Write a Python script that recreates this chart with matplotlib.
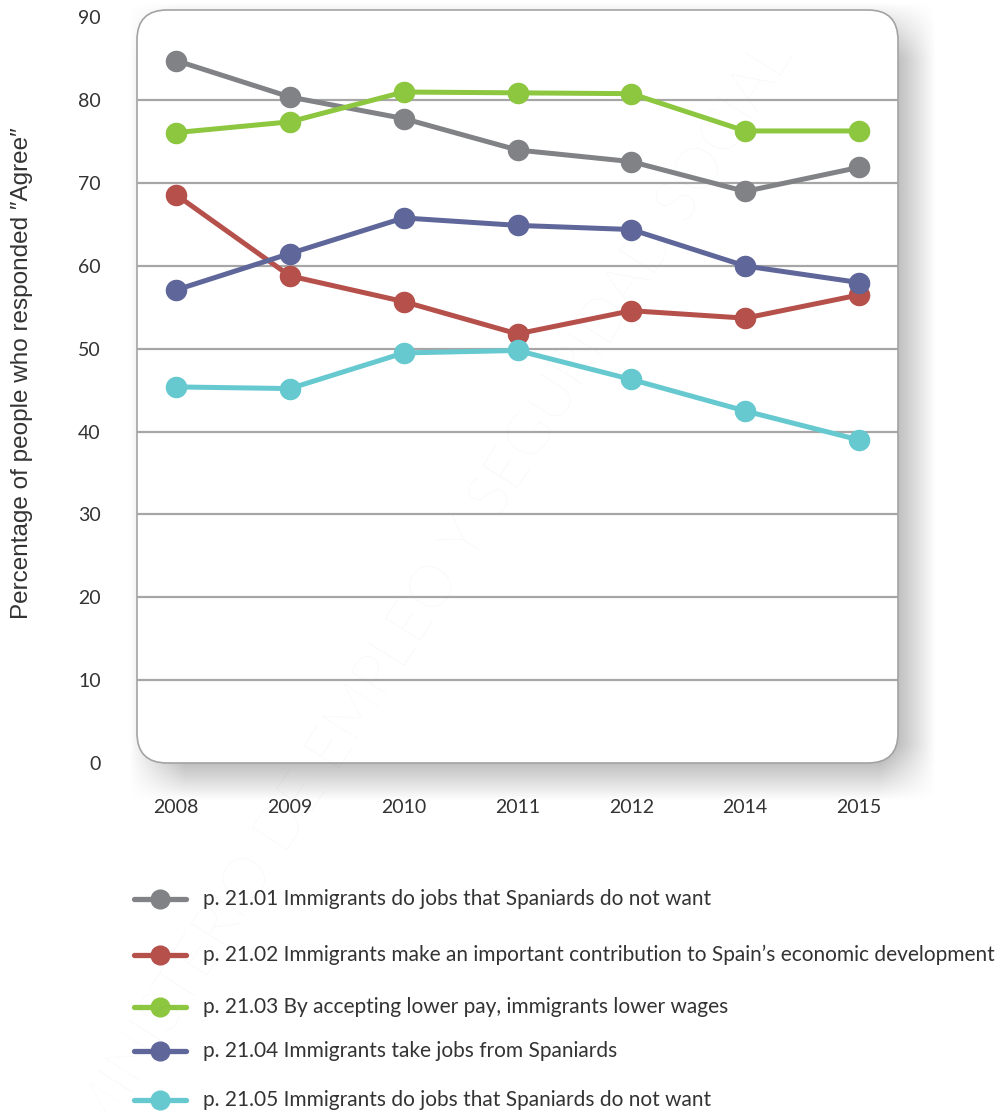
import matplotlib.pyplot as plt
import numpy as np
from matplotlib.patches import FancyBboxPatch

# survey years and share of "Agree" answers (%)
years = ["2008", "2009", "2010", "2011", "2012", "2014", "2015"]
p2101 = [84.8, 80.4, 77.8, 74.0, 72.6, 69.0, 71.9]
p2102 = [68.6, 58.8, 55.7, 51.8, 54.6, 53.7, 56.5]
p2103 = [76.1, 77.4, 81.0, 80.9, 80.8, 76.3, 76.3]
p2104 = [57.1, 61.5, 65.8, 64.9, 64.4, 60.0, 58.0]
p2105 = [45.4, 45.2, 49.5, 49.8, 46.3, 42.5, 39.0]

labels = [
    "p. 21.01 Immigrants do jobs that Spaniards do not want",
    "p. 21.02 Immigrants make an important contribution to Spain\u2019s economic development",
    "p. 21.03 By accepting lower pay, immigrants lower wages",
    "p. 21.04 Immigrants take jobs from Spaniards",
    "p. 21.05 Immigrants do jobs that Spaniards do not want",
]
series = [p2101, p2102, p2103, p2104, p2105]
colors = ["#808285", "#b5504b", "#8dc63f", "#5f6699", "#66c9d0"]

W, H = 998, 1114
fig = plt.figure(figsize=(W / 100, H / 100), dpi=100)

# pixel-space background layer: shadow, rounded box, legend
bg = fig.add_axes([0, 0, 1, 1], zorder=0)
bg.set_xlim(0, W)
bg.set_ylim(H, 0)
bg.axis("off")

bx0, by0, bx1, by1 = 137, 10, 898, 763

# soft drop shadow to the lower right of the box
yy, xx = np.mgrid[0:H, 0:W]
mask = ((xx > bx0 + 20) & (xx < bx1 + 10) & (yy > by0 + 20) & (yy < by1 + 10)).astype(float)
k = 28
for axis in (0, 1):
    c = np.cumsum(np.pad(mask, [(k, k) if a == axis else (0, 0) for a in (0, 1)]), axis=axis)
    if axis == 0:
        mask = (c[2 * k:, :] - c[:-2 * k, :])[:H] / (2 * k)
    else:
        mask = (c[:, 2 * k:] - c[:, :-2 * k])[:, :W] / (2 * k)
shadow = np.zeros((H, W, 4))
shadow[..., :3] = 0.42
shadow[..., 3] = mask * 0.65
bg.imshow(shadow, extent=[0, W, H, 0], aspect="auto", interpolation="bilinear")

box = FancyBboxPatch((bx0, by0), bx1 - bx0, by1 - by0,
                     boxstyle="round,pad=0,rounding_size=30",
                     facecolor="white", edgecolor="#a3a3a3", linewidth=1.2)
bg.add_patch(box)

# faint diagonal watermark
fig.text(0.435, 0.47, "MINISTERIO DE EMPLEO Y SEGURIDAD SOCIAL",
         rotation=57.5, ha="center", va="center", fontsize=43,
         family="Lato", fontweight="light", color="#000000", alpha=0.04,
         zorder=1)

# main plot
ax = fig.add_axes([bx0 / W, 1 - by1 / H, (bx1 - bx0) / W, (by1 - by0) / H], zorder=2)
ax.patch.set_visible(False)
for s in ax.spines.values():
    s.set_visible(False)

x = np.arange(len(years))
ax.set_xlim(-0.343, 6.343)
ax.set_ylim(0, 90.9)
for g in range(10, 90, 10):
    ax.axhline(g, color="#a6a6a6", linewidth=1.6, zorder=1)

for vals, col in zip(series, colors):
    ax.plot(x, vals, color=col, linewidth=3.6, marker="o", markersize=14.5,
            solid_capstyle="round", zorder=3)

ax.set_xticks(x)
ax.set_xticklabels(years)
ax.set_yticks(range(0, 91, 10))
ax.tick_params(length=0, labelsize=14, labelcolor="#333333")
ax.tick_params(axis="x", pad=26)
ax.tick_params(axis="y", pad=26)
for t in ax.get_xticklabels() + ax.get_yticklabels():
    t.set_family("Lato")

fig.text(22 / W, 1 - 373 / H, "Percentage of people who responded \u2033Agree\u2033",
         rotation=90, ha="center", va="center", fontsize=17.5,
         family="Liberation Sans", color="#333333")

# legend rows
rows = [899, 955, 1007, 1051, 1100]
for ry, lab, col in zip(rows, labels, colors):
    bg.plot([134, 186], [ry, ry], color=col, linewidth=3.8, solid_capstyle="round")
    bg.plot([160], [ry], marker="o", markersize=13.5, color=col)
    bg.text(203, ry, lab, ha="left", va="center", fontsize=15,
            family="Lato", color="#333333")

fig.savefig("out.png", dpi=100)
